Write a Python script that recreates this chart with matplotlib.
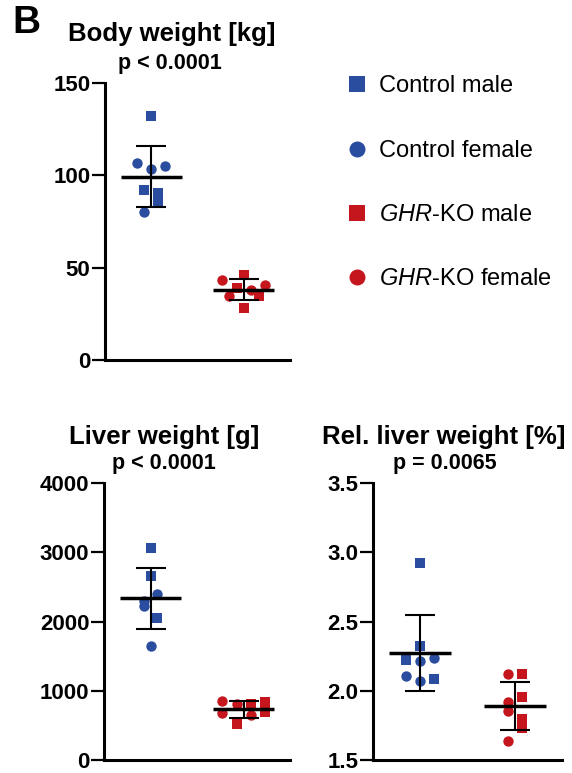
import numpy as np
import matplotlib
matplotlib.use("Agg")
import matplotlib.pyplot as plt
from matplotlib.lines import Line2D

plt.rcParams['font.family'] = ['Liberation Sans', 'DejaVu Sans']
plt.rcParams['mathtext.fontset'] = 'custom'
plt.rcParams['mathtext.rm'] = 'Liberation Sans'
plt.rcParams['mathtext.it'] = 'Liberation Sans:italic'
plt.rcParams['mathtext.bf'] = 'Liberation Sans:bold'

blue = '#2B4DA0'
red = '#C4161C'

# body weight [kg]
body_ctrl_m = [132, 92.3, 90.7, 84.9]
body_ctrl_f = [106.5, 103.4, 105, 80]
body_ko_m = [46.2, 39, 34.5, 28]
body_ko_f = [43.5, 40.8, 37.8, 34.7]
# liver weight [g]
liver_ctrl_m = [3057, 2659, 2051]
liver_ctrl_f = [2391, 2300, 2219, 1653]
liver_ko_m = [815, 833, 690, 513]
liver_ko_f = [853, 815, 681, 647]
# relative liver weight [%]
rel_ctrl_m = [2.92, 2.323, 2.219, 2.085]
rel_ctrl_f = [2.215, 2.24, 2.106, 2.073]
rel_ko_m = [2.12, 1.954, 1.794, 1.734]
rel_ko_f = [2.123, 1.918, 1.854, 1.639]

# horizontal spread of the points (scatter layout), in group units
body_dx = [[0, -0.075, 0.075, 0.075], [-0.15, 0, 0.15, -0.075],
           [0, -0.075, 0.16, 0], [-0.235, 0.23, 0.08, -0.155]]
liver_dx = [[0, 0, 0.075], [0.075, -0.072, -0.075, 0],
            [0.08, 0.23, 0.23, -0.075], [-0.235, -0.075, -0.235, 0.08]]
rel_dx = [[0, 0, -0.155, 0.148], [0, 0.148, -0.155, 0],
          [0.077, 0.077, 0.077, 0.077], [-0.07, -0.07, -0.07, -0.07]]

groups = ['Control', 'GHR-KO']

fig = plt.figure(figsize=(5.72, 7.73), dpi=100)
W, H = 572, 773

def panel(rect, data, dx, yticks, ylim, fmt):
    ax = fig.add_axes(rect)
    cm, cf, km, kf = data
    sets = [(cm, 0, 's', blue), (cf, 0, 'o', blue), (km, 1, 's', red), (kf, 1, 'o', red)]
    for (vals, g, mk, col), off in zip(sets, dx):
        ax.scatter(g + np.array(off), vals, marker=mk, s=56, color=col,
                   linewidths=0, zorder=2, clip_on=False)
    for g, vals in enumerate([cm + cf, km + kf]):
        v = np.array(vals, dtype=float)
        m, sd = v.mean(), v.std(ddof=1)
        ax.hlines(m, g - 0.33, g + 0.33, color='black', lw=2.5, zorder=3)
        ax.errorbar(g, m, yerr=sd, color='black', lw=1.5, capsize=10.8,
                    capthick=1.5, zorder=3)
    ax.set_xlim(-0.5, 1.5)
    ax.set_ylim(*ylim)
    ax.set_xticks([])
    ax.set_yticks(yticks)
    ax.set_yticklabels([fmt.format(t) for t in yticks], fontsize=16, fontweight='bold')
    for s in ['top', 'right']:
        ax.spines[s].set_visible(False)
    for s in ['left', 'bottom']:
        ax.spines[s].set_linewidth(2.2)
    ax.tick_params(axis='y', width=1.6, length=9.5, pad=1)
    return ax

panel([105 / W, 1 - 360 / H, 185 / W, 277 / H],
      [body_ctrl_m, body_ctrl_f, body_ko_m, body_ko_f], body_dx,
      [0, 50, 100, 150], (0, 150), '{:.0f}')
panel([104 / W, 1 - 760 / H, 186 / W, 277 / H],
      [liver_ctrl_m, liver_ctrl_f, liver_ko_m, liver_ko_f], liver_dx,
      [0, 1000, 2000, 3000, 4000], (0, 4000), '{:.0f}')
panel([373 / W, 1 - 760 / H, 189 / W, 277 / H],
      [rel_ctrl_m, rel_ctrl_f, rel_ko_m, rel_ko_f], rel_dx,
      [1.5, 2.0, 2.5, 3.0, 3.5], (1.5, 3.5), '{:.1f}')

# titles
fig.text(12 / W, 1 - 23 / H, 'B', fontsize=28, fontweight='bold', va='center')
fig.text(172 / W, 1 - 34 / H, 'Body weight [kg]', fontsize=18.5, fontweight='bold', ha='center', va='center')
fig.text(170 / W, 1 - 63 / H, 'p < 0.0001', fontsize=15.5, fontweight='bold', ha='center', va='center')
fig.text(164 / W, 1 - 437 / H, 'Liver weight [g]', fontsize=18.5, fontweight='bold', ha='center', va='center')
fig.text(164 / W, 1 - 464 / H, 'p < 0.0001', fontsize=15.5, fontweight='bold', ha='center', va='center')
fig.text(444 / W, 1 - 437 / H, 'Rel. liver weight [%]', fontsize=18.5, fontweight='bold', ha='center', va='center')
fig.text(445 / W, 1 - 464 / H, 'p = 0.0065', fontsize=15.5, fontweight='bold', ha='center', va='center')

# legend
handles = [Line2D([], [], ls='', marker='s', ms=11.5, color=blue, mew=0),
           Line2D([], [], ls='', marker='o', ms=11.5, color=blue, mew=0),
           Line2D([], [], ls='', marker='s', ms=11.5, color=red, mew=0),
           Line2D([], [], ls='', marker='o', ms=11.5, color=red, mew=0)]
labels = ['Control male', 'Control female', r'$\mathit{GHR}$-KO male', r'$\mathit{GHR}$-KO female']
fig.legend(handles, labels, loc='upper left', bbox_to_anchor=(348 / W, 1 - 75.5 / H),
           frameon=False, fontsize=17, handlelength=0.75, handletextpad=0.55,
           labelspacing=1.79, borderpad=0, borderaxespad=0)

fig.savefig('out.png', dpi=100)
